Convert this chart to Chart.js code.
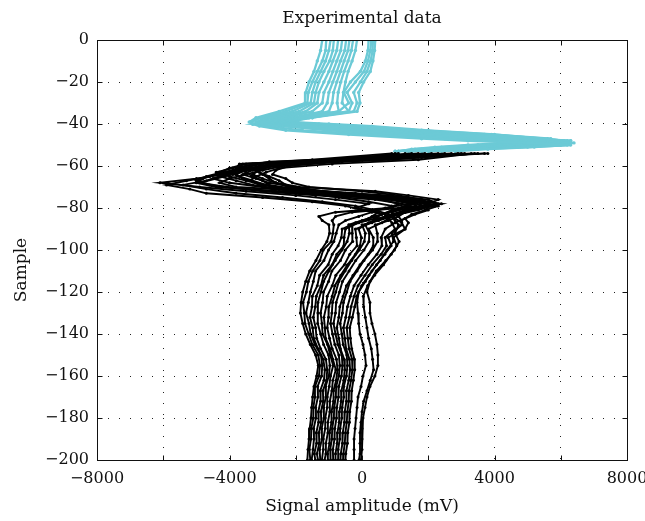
<!DOCTYPE html>
<html><head><meta charset="utf-8">
<script src="https://cdn.jsdelivr.net/npm/chart.js@4.4.1/dist/chart.umd.min.js"></script>
<style>html,body{margin:0;padding:0;background:#fff;}#wrap{width:645px;height:521px;}</style>
</head><body><div id="wrap"><canvas id="c" width="645" height="521"></canvas></div>
<script>
// ---- data ----
const titleText = 'Experimental data';
const xTitle = 'Signal amplitude (mV)';
const yTitle = 'Sample';

// cyan part of the traces: sample numbers
const cyanSamples = [0,-5,-10,-15,-20,-25,-30,-34,-37,-39,-40,-41,-43,-45,-47,-48,-49,-50,-51,-52,-53];
const cyn0 = [-1200,-1250,-1350,-1450,-1600,-1700,-1720,-2500,-3200,-3400,-3300,-3100,-2300,-400,1800,3200,5000,6200,5200,3800,2800];
const cyn1 = [-1080,-1100,-1200,-1350,-1500,-1620,-1650,-2300,-3050,-3350,-3300,-2900,-1800,200,2500,4000,5600,6300,5000,3500,2400];
const cyn2 = [-950,-1000,-1100,-1250,-1400,-1500,-1550,-2100,-2900,-3200,-3100,-2400,-1000,1000,3200,4800,6200,6000,4600,3200,2000];
const cyn3 = [-850,-880,-980,-1150,-1300,-1400,-1450,-1900,-2700,-3100,-2800,-2000,-400,1800,4000,5500,6400,5600,4200,2900,1800];
const cyn4 = [-720,-760,-880,-1000,-1150,-1300,-1350,-1700,-2500,-2950,-2500,-1600,200,2500,4600,6000,6100,5200,3800,2600,1500];
const cyn5 = [-600,-640,-760,-880,-1000,-1150,-1200,-1500,-2300,-2800,-2200,-1200,700,3000,5000,6200,5700,4800,3400,2300,1300];
const cyn6 = [-480,-520,-650,-760,-880,-1000,-1050,-1200,-2100,-2650,-1900,-800,1100,3400,5400,6300,5400,4300,3000,2000,1100];
const cyn7 = [-380,-420,-540,-650,-760,-860,-900,-1000,-1900,-2500,-1600,-400,1500,3700,5600,6100,5100,3900,2700,1800,1000];
const cyn8 = [-270,-320,-420,-540,-640,-720,-750,-700,-1700,-2350,-1300,0,1800,3900,5700,5800,4700,3500,2400,1600,1000];
const cyn9 = [-150,-200,-300,-420,-500,-560,-600,-400,-1500,-2200,-1000,300,2000,4000,5500,5500,4400,3200,2200,1500,1100];
const cynR0 = [200,180,100,-50,-350,-550,-400,-700,-2000,-3000,-3300,-2400,-600,1500,3800,5000,6000,5600,4400,3000,2000];
const cynR1 = [280,250,180,60,-200,-450,-300,-400,-1800,-2800,-3000,-2000,-200,2000,4300,5600,6300,5400,4000,2700,1800];
const cynR2 = [330,320,260,150,-50,-250,-150,-250,-1600,-2600,-2700,-1500,300,2600,4800,6000,5900,5000,3700,2400,1500];
const cynR3 = [400,380,330,250,50,-100,-60,-150,-1500,-2400,-2200,-1000,800,3000,5200,6300,5600,4600,3300,2200,1400];

// black part of the traces: sample numbers (two read-off grids, used alternately)
const blackSamplesA = [-54,-56,-58,-60,-62,-64,-66,-68,-70,-72,-74,-76,-78,-80,-82,-84,-86,-88,-92,-96,-100,-105,-110,-115,-120,-125,-130,-135,-140,-145,-150,-155,-160,-165,-170,-175,-180,-185,-190,-195,-200];
const blackSamplesB = [-54,-57,-59,-61,-63,-65,-67,-69,-71,-73,-75,-77,-79,-81,-83,-85,-87,-90,-94,-98,-102,-107,-112,-117,-122,-127,-132,-137,-142,-147,-152,-157,-162,-167,-172,-177,-182,-187,-192,-197,-200];
const blk00 = [3800,1500,-1200,-2600,-3400,-4200,-5000,-6100,-4900,-3500,-2000,-800,200,-200,500,300,100,-300,-300,-280,-500,-650,-910,-1010,-1160,-1190,-1250,-1210,-1190,-1040,-960,-870,-950,-990,-1050,-1050,-1110,-1110,-1170,-1170,-1210];
const blk01 = [3500,800,-2500,-3300,-4000,-4600,-5300,-5900,-5200,-4700,-3000,-1500,-500,0,700,800,600,200,340,340,190,-60,-270,-470,-570,-670,-700,-760,-700,-650,-540,-520,-550,-620,-630,-680,-690,-740,-750,-800,-800];
const blk02 = [3300,1200,-1800,-3000,-3800,-4400,-4800,-5000,-4400,-2500,-300,1200,2400,1800,1200,900,500,0,100,70,-80,-310,-510,-700,-790,-890,-910,-950,-890,-820,-700,-670,-700,-780,-790,-840,-850,-900,-910,-960,-950];
const blk03 = [3100,300,-3000,-3600,-4200,-4700,-5000,-4600,-3500,-2000,200,1600,2200,1500,1000,600,300,-200,-170,-150,-370,-530,-790,-900,-1050,-1080,-1150,-1120,-1100,-960,-880,-790,-880,-910,-970,-970,-1030,-1030,-1090,-1090,-1130];
const blk04 = [2900,1800,-600,-2400,-3000,-3500,-4000,-4300,-3800,-1500,800,2000,2300,1400,900,1100,800,400,460,470,320,60,-150,-360,-460,-560,-590,-660,-610,-570,-460,-440,-470,-550,-550,-600,-610,-660,-670,-720,-720];
const blk05 = [2700,-200,-3200,-3900,-4400,-4300,-3800,-3300,-2600,-800,1200,1900,1600,900,600,400,-100,-500,-540,-550,-760,-900,-1160,-1240,-1380,-1410,-1470,-1400,-1370,-1250,-1090,-1050,-1070,-1180,-1170,-1240,-1230,-1300,-1290,-1360,-1330];
const blk06 = [2500,600,-2200,-3100,-3600,-3900,-4400,-4900,-4100,-3000,-1400,400,1200,1600,1300,700,400,100,220,210,60,-190,-390,-590,-680,-780,-800,-860,-800,-730,-610,-590,-620,-700,-710,-760,-770,-820,-830,-880,-870];
const blk07 = [2300,-600,-3500,-4000,-4300,-4000,-3500,-3000,-2300,-1000,500,1400,1900,2000,1600,1300,1000,700,580,600,450,190,-30,-240,-350,-440,-490,-560,-520,-480,-380,-360,-400,-470,-470,-520,-530,-580,-590,-640,-650];
const blk08 = [2100,1000,-1500,-2800,-3200,-3000,-2800,-2600,-2200,-1500,-300,800,1500,1100,-300,-800,-900,-850,-880,-930,-1170,-1270,-1490,-1620,-1680,-1780,-1740,-1720,-1610,-1500,-1320,-1270,-1300,-1420,-1420,-1470,-1470,-1530,-1540,-1590,-1560];
const blk09 = [1900,-900,-3700,-3800,-3500,-3300,-3000,-2800,-2000,-200,1000,1700,2100,1700,1100,800,900,1000,700,740,580,310,90,-120,-240,-330,-380,-460,-430,-390,-300,-290,-330,-390,-400,-440,-460,-500,-520,-560,-570];
const blk10 = [1700,200,-2800,-3500,-3900,-4100,-4500,-4000,-3000,-1800,-600,600,1100,800,-800,-1300,-1200,-1000,-980,-1060,-1230,-1390,-1580,-1700,-1790,-1840,-1860,-1790,-1700,-1560,-1400,-1320,-1370,-1450,-1490,-1520,-1540,-1580,-1600,-1630,-1650];
const blk11 = [1500,-1200,-3300,-3400,-3100,-2800,-2500,-2300,-1800,-500,700,1500,1800,1300,900,500,200,-100,-20,-60,-200,-440,-640,-820,-900,-1000,-1010,-1050,-980,-900,-770,-740,-780,-860,-860,-920,-920,-980,-980,-1040,-1030];
const blk12 = [1300,1400,-1000,-2200,-2600,-2700,-2300,-2100,-1600,0,1100,1800,1400,700,300,-100,-500,-700,-780,-850,-1010,-1150,-1400,-1470,-1560,-1620,-1690,-1600,-1550,-1420,-1240,-1200,-1220,-1340,-1330,-1400,-1390,-1460,-1450,-1480,-1520];
const blk13 = [1100,-400,-2600,-3200,-3800,-4300,-4700,-5400,-4700,-3800,-2400,-1200,-200,400,800,1000,1200,1300,790,880,690,440,210,-10,-160,-220,-290,-370,-350,-310,-230,-220,-260,-310,-320,-370,-380,-430,-440,-490,-500];
const blk14 = [1000,500,-2000,-2900,-3300,-3600,-3200,-2800,-2000,-1200,0,1000,1600,1200,800,400,0,-400,-380,-450,-600,-810,-1000,-1160,-1240,-1330,-1330,-1340,-1250,-1160,-1010,-970,-1000,-1100,-1090,-1160,-1150,-1220,-1210,-1280,-1260];
const blk15 = [900,-1500,-3600,-3700,-4000,-3700,-3300,-2900,-2500,-1600,-700,200,900,1000,600,200,-200,-600,-620,-720,-900,-1020,-1280,-1350,-1500,-1510,-1570,-1490,-1460,-1330,-1170,-1120,-1150,-1260,-1250,-1320,-1310,-1380,-1370,-1440,-1410];
const blkR0 = [3000,900,-2000,-3000,-3500,-3800,-3600,-3200,-2600,-1400,200,1300,2000,1700,1300,1100,1200,1200,900,950,750,550,300,100,-100,-150,-120,-100,-60,30,90,120,30,-30,-120,-150,-180,-210,-240,-240,-240];
const blkR1 = [3400,1700,-900,-2500,-2900,-3200,-3400,-3100,-2700,-700,900,2100,2300,1900,1500,1300,1400,1300,950,1050,880,650,380,170,40,50,100,150,200,280,320,350,250,150,50,0,-30,-60,-60,-60,-90];
const blkR2 = [3700,1100,-1400,-2700,-3100,-3300,-3000,-2600,-1900,400,1400,2300,2000,1600,1200,900,1000,1100,1000,1120,980,720,430,240,150,240,240,300,390,450,480,480,390,240,150,90,30,0,0,0,-30];

const cyanTraces = [cyn0,cyn1,cyn2,cyn3,cyn4,cyn5,cyn6,cyn7,cyn8,cyn9,cynR0,cynR1,cynR2,cynR3];
const blackTraces = [blk00,blk01,blk02,blk03,blk04,blk05,blk06,blk07,blk08,blk09,blk10,blk11,blk12,blk13,blk14,blk15,blkR0,blkR1,blkR2];

// ---- chart ----
const FONT = "'DejaVu Serif', 'Liberation Serif', serif";
const CYAN = '#6ccad6';
const fmt = v => (v < 0 ? '\u2212' + Math.abs(v) : String(v));

function mk(xs, ys, color, lw, pr) {
  return {
    data: xs.map((v, i) => ({x: v, y: ys[i]})),
    showLine: true,
    borderColor: color,
    backgroundColor: color,
    borderWidth: lw,
    pointRadius: pr,
    pointBorderWidth: 0,
    pointHoverRadius: pr,
    tension: 0
  };
}

const datasets = [];
blackTraces.forEach((t, k) => datasets.push(mk(t, k % 2 ? blackSamplesB : blackSamplesA, '#000', 1.9, 1.5)));
cyanTraces.forEach(t => datasets.push(mk(t, cyanSamples, CYAN, 2.3, 1.7)));

const framePlugin = {
  id: 'frame',
  afterDatasetsDraw(chart) {
    const {ctx, chartArea: a, scales: {x, y}} = chart;
    ctx.save();
    ctx.strokeStyle = '#111';
    ctx.lineWidth = 1;
    const L = Math.round(a.left) + 0.5, R = Math.round(a.right) + 0.5;
    const T = Math.round(a.top) + 0.5, B = Math.round(a.bottom) + 0.5;
    ctx.strokeRect(L, T, R - L, B - T);
    const len = 5;
    ctx.beginPath();
    x.ticks.forEach(t => {
      const p = Math.round(x.getPixelForValue(t.value)) + 0.5;
      ctx.moveTo(p, B); ctx.lineTo(p, B - len);
      ctx.moveTo(p, T); ctx.lineTo(p, T + len);
    });
    y.ticks.forEach(t => {
      const p = Math.round(y.getPixelForValue(t.value)) + 0.5;
      ctx.moveTo(L, p); ctx.lineTo(L + len, p);
      ctx.moveTo(R, p); ctx.lineTo(R - len, p);
    });
    ctx.stroke();
    // titles, centred on the plot area like the reference
    ctx.fillStyle = '#111';
    ctx.font = "17px " + FONT;
    ctx.textAlign = 'center';
    ctx.textBaseline = 'middle';
    const cx = (a.left + a.right) / 2;
    ctx.fillText(titleText, cx, 19);
    ctx.fillText(xTitle, cx, 507);
    ctx.save();
    ctx.translate(22, 270);
    ctx.rotate(-Math.PI / 2);
    ctx.fillText(yTitle, 0, 0);
    ctx.restore();
    ctx.restore();
  }
};

new Chart(document.getElementById('c'), {
  type: 'scatter',
  data: {datasets},
  options: {
    responsive: false,
    animation: false,
    devicePixelRatio: 1,
    layout: {padding: {left: 0, right: 18, top: 40, bottom: 0}},
    plugins: {
      legend: {display: false},
      tooltip: {enabled: false},
      title: {display: false}
    },
    scales: {
      x: {
        type: 'linear', min: -8000, max: 8000,
        ticks: {
          stepSize: 2000, autoSkip: false, maxRotation: 0, color: '#111', padding: 9,
          font: {family: FONT, size: 16},
          callback: v => (v % 4000 === 0 ? fmt(v) : '')
        },
        grid: {color: '#222', lineWidth: 1, drawTicks: false},
        border: {display: false, dash: [1, 10]},
        afterFit: s => { s.height = 61; s.paddingLeft = 0; s.paddingRight = 0; }
      },
      y: {
        type: 'linear', min: -200, max: 0,
        ticks: {
          stepSize: 20, autoSkip: false, color: '#111', padding: 8,
          font: {family: FONT, size: 16},
          callback: v => fmt(v)
        },
        grid: {color: '#222', lineWidth: 1, drawTicks: false},
        border: {display: false, dash: [1, 10]},
        afterFit: s => { s.width = 97; s.paddingTop = 0; s.paddingBottom = 0; }
      }
    }
  },
  plugins: [framePlugin]
});
</script>
</body></html>
